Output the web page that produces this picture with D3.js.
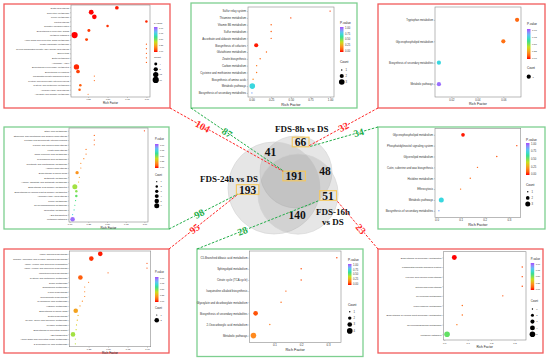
<!DOCTYPE html>
<html>
<head>
<meta charset="utf-8">
<script src="https://cdn.jsdelivr.net/npm/d3@7"></script>
<style>
  body { margin: 0; background: #fff; }
  svg { display: block; }
</style>
</head>
<body>
<div id="main_svg"></div>
<script>
// ---------------- data ----------------
// top-left panel (red)
var aTerms = ["Zeatin biosynthesis", "Nucleotide metabolism", "Purine metabolism", "Photosynthesis",
  "Oxidative phosphorylation", "Biosynthesis of nucleotide sugars", "Metabolic pathways",
  "Amino sugar and nucleotide sugar metabolism", "Inositol phosphate metabolism",
  "Glycosylphosphatidylinositol (GPI)-anchor biosynthesis", "Endocytosis", "Biotin metabolism",
  "Autophagy - other", "Biosynthesis of secondary metabolites", "Biosynthesis of cofactors",
  "Phosphatidylinositol signaling system", "Pentose and glucuronate interconversions",
  "Cysteine and methionine metabolism", "Aminoacyl-tRNA biosynthesis", "Ascorbate and aldarate metabolism"];
var aRich = [0.62, 0.29, 0.33, 1.0, 0.50, 0.26, 0.076, 0.23, 1, 1, 1, 1, 1, 0.10, 0.12, 0.33, 0.33, 0.15, 0.14, 0.25];
var aP = [0.01, 0.0, 0.0, 0.02, 0.03, 0.04, 0.0, 0.05, 0.08, 0.08, 0.08, 0.08, 0.08, 0.02, 0.05, 0.12, 0.12, 0.1, 0.1, 0.15];
var aCount = [6, 10, 9, 3, 3, 4, 16, 4, 1, 1, 1, 1, 1, 12, 6, 1, 1, 3, 3, 1];
var aKeys = [4, 8, 12, 16];
var aTicks = [0.25, 0.5, 0.75, 1.0];

// top-middle panel (green)
var bTerms = ["Sulfur relay system", "Thiamine metabolism", "Vitamin B6 metabolism", "Sulfur metabolism",
  "Ascorbate and aldarate metabolism", "Biosynthesis of cofactors", "Glutathione metabolism",
  "Zeatin biosynthesis", "Carbon metabolism", "Cysteine and methionine metabolism",
  "Biosynthesis of amino acids", "Metabolic pathways", "Biosynthesis of secondary metabolites"];
var bRich = [1.0, 0.5, 0.25, 0.25, 0.25, 0.06, 0.19, 0.11, 0.065, 0.065, 0.02, 0.01, 0.005];
var bP = [0.04, 0.06, 0.1, 0.1, 0.1, 0.01, 0.12, 0.12, 0.15, 0.15, 0.2, 0.72, 0.85];
var bCount = [1, 1, 1, 1, 1, 2, 1, 1, 1, 1, 1, 3, 1];
var bKeys = [1, 2, 3];
var bTicks = [0, 0.25, 0.5, 0.75, 1.0];

// top-right panel (red)
var cTerms = ["Tryptophan metabolism", "Glycerophospholipid metabolism",
  "Biosynthesis of secondary metabolites", "Metabolic pathways"];
var cRich = [0.0706, 0.0600, 0.0104, 0.0104];
var cP = [0.12, 0.14, 0.72, 0.95];
var cCount = [1, 1, 1, 1];
var cKeys = [1];
var cTicks = [0.02, 0.04, 0.06];

// middle-left panel (green)
var dTerms = ["Ether lipid metabolism", "Stilbenoid, diarylheptanoid and gingerol biosynthesis",
  "Pentose and glucuronate interconversions", "Flavone and flavonol biosynthesis", "Folate biosynthesis",
  "alpha-Linolenic acid metabolism", "Cyanoamino acid metabolism", "Nicotinate and nicotinamide metabolism",
  "Arginine biosynthesis", "Biosynthesis of amino acids", "Butanoate metabolism",
  "Alanine, aspartate and glutamate metabolism", "Biosynthesis of secondary metabolites",
  "Biosynthesis of various plant secondary metabolites", "Aminoacyl-tRNA biosynthesis", "Purine metabolism",
  "Glycerophospholipid metabolism", "Nucleotide metabolism", "ABC transporters", "Metabolic pathways"];
var dRich = [1.0, 0.33, 0.33, 0.33, 0.22, 0.22, 0.19, 0.15, 0.15, 0.10, 0.13, 0.12, 0.07, 0.09, 0.09, 0.08, 0.07, 0.06, 0.04, 0.04];
var dP = [0.04, 0.1, 0.1, 0.1, 0.14, 0.14, 0.17, 0.2, 0.2, 0.22, 0.25, 0.27, 0.45, 0.48, 0.52, 0.55, 0.58, 0.65, 0.72, 0.95];
var dCount = [1, 1, 1, 1, 1, 1, 1, 1, 1, 3, 1, 1, 6, 2, 2, 1, 1, 1, 1, 5];
var dKeys = [1, 2, 3, 4, 5, 6];
var dTicks = [0, 0.25, 0.5, 0.75, 1.0];

// bottom-left panel (red)
var eTerms = ["Indole alkaloid biosynthesis", "Tropane, piperidine and pyridine alkaloid biosynthesis",
  "Valine, leucine and isoleucine degradation", "Valine, leucine and isoleucine biosynthesis",
  "Monoterpenoid biosynthesis", "Cysteine and methionine metabolism", "Sulfur metabolism",
  "Sphingolipid metabolism", "Lysine biosynthesis", "Glucosinolate biosynthesis", "Cyanoamino acid metabolism",
  "Histidine metabolism", "Biosynthesis of amino acids", "Zeatin biosynthesis",
  "Glycine, serine and threonine metabolism", "Tyrosine metabolism", "Biosynthesis of nucleotide sugars",
  "ABC transporters", "Amino sugar and nucleotide sugar metabolism", "2-Oxocarboxylic acid metabolism"];
var eRich = [0.40, 0.285, 1.0, 1.0, 0.5, 0.145, 0.25, 0.2, 0.2, 0.2, 0.17, 0.14, 0.085, 0.115, 0.105, 0.095, 0.09, 0.05, 0.08, 0.08];
var eP = [0.01, 0.03, 0.06, 0.06, 0.1, 0.1, 0.15, 0.17, 0.17, 0.17, 0.2, 0.22, 0.25, 0.28, 0.3, 0.34, 0.38, 0.45, 0.42, 0.42];
var eCount = [2, 2, 1, 1, 1, 2, 1, 1, 1, 1, 1, 1, 2, 1, 1, 1, 1, 2, 1, 1];
var eKeys = [1, 2];
var eTicks = [0.25, 0.5, 0.75, 1.0];

// bottom-middle panel (green)
var fTerms = ["C5-Branched dibasic acid metabolism", "Sphingolipid metabolism", "Citrate cycle (TCA cycle)",
  "Isoquinoline alkaloid biosynthesis", "Glyoxylate and dicarboxylate metabolism",
  "Biosynthesis of secondary metabolites", "2-Oxocarboxylic acid metabolism", "Metabolic pathways"];
var fRich = [0.333, 0.2, 0.2, 0.143, 0.125, 0.03, 0.083, 0.022];
var fP = [0.05, 0.07, 0.07, 0.1, 0.12, 0.08, 0.16, 0.2];
var fCount = [1, 1, 1, 1, 1, 3, 1, 4];
var fKeys = [1, 2, 3, 4];
var fTicks = [0.1, 0.2, 0.3];

// middle-right panel (green)
var gTerms = ["Glycerophospholipid metabolism", "Phosphatidylinositol signaling system", "Glycerolipid metabolism",
  "Cutin, suberine and wax biosynthesis", "Histidine metabolism", "Efferocytosis", "Metabolic pathways",
  "Biosynthesis of secondary metabolites"];
var gRich = [0.11, 0.333, 0.25, 0.17, 0.14, 0.10, 0.02, 0.01];
var gP = [0.01, 0.06, 0.08, 0.1, 0.12, 0.14, 0.72, 0.85];
var gCount = [2, 1, 1, 1, 1, 1, 3, 1];
var gKeys = [1, 2, 3];
var gTicks = [0, 0.1, 0.2, 0.3];

// bottom-right panel (red)
var hTerms = ["Biosynthesis of secondary metabolites", "Phosphatidylinositol signaling system",
  "Flavone and flavonol biosynthesis", "Diterpenoid biosynthesis", "Glycerolipid metabolism",
  "Phenylalanine metabolism", "Biosynthesis of various plant secondary metabolites",
  "Glycerophospholipid metabolism", "Metabolic pathways"];
var hRich = [0.043, 0.333, 0.333, 0.333, 0.25, 0.077, 0.077, 0.054, 0.012];
var hP = [0.0, 0.06, 0.06, 0.06, 0.08, 0.12, 0.12, 0.15, 0.52];
var hCount = [4, 1, 1, 1, 1, 1, 1, 1, 5];
var hKeys = [1, 2, 3, 4, 5];
var hTicks = [0, 0.1, 0.2, 0.3];

// venn
var vennSets = ["8h", "24h", "16h"];
var vennSetLabels = [["FDS-8h vs DS"], ["FDS-24h vs DS"], ["FDS-16h", "vs DS"]];
var vennRegions = [["8h"], ["24h"], ["16h"], ["8h", "24h"], ["8h", "16h"], ["24h", "16h"], ["8h", "24h", "16h"]];
var vennValues = [66, 193, 51, 41, 48, 140, 191];
var vennBoxed = [true, true, true, false, false, false, true];

// numbers written on the connector lines
var linkValues = [104, 87, 32, 34, 98, 95, 28, 23];

// ---------------- styles / layout ----------------
var RED = "#f25a5a", GREEN = "#7dcf90";
var LINE_RED = "#ff2626", LINE_GREEN = "#22ad48";
var SANS = "Liberation Sans, Arial, sans-serif";
var SERIF = "Liberation Serif, Times New Roman, serif";

var pColor = d3.scaleLinear()
    .domain([0, 0.2, 0.4, 0.55, 0.75, 1])
    .range(["#ff0000", "#ff8a1e", "#c6e01e", "#2fe070", "#2fd6f2", "#a34cff"])
    .interpolate(d3.interpolateLab);

var svg = d3.select("#main_svg").append("svg")
    .attr("width", 550).attr("height", 358);

var defs = svg.append("defs");

function panel(cfg) {
    var g = svg.append("g");
    var b = cfg.box, p = cfg.plot;

    g.append("rect")
        .attr("x", b[0]).attr("y", b[1])
        .attr("width", b[2] - b[0]).attr("height", b[3] - b[1])
        .attr("fill", "#fff").attr("stroke", cfg.color).attr("stroke-width", 1.3);

    g.append("rect")
        .attr("x", p[0]).attr("y", p[1])
        .attr("width", p[2] - p[0]).attr("height", p[3] - p[1])
        .attr("fill", "#fff");

    // scales (ggplot style expansion)
    var y = d3.scalePoint().domain(cfg.terms).range([p[1], p[3]]).padding(0.6);
    var ext = d3.extent(cfg.rich), pad = (ext[1] - ext[0]) * 0.05;
    var x = d3.scaleLinear().domain([ext[0] - pad, ext[1] + pad]).range([p[0], p[2]]);
    var area = d3.scaleLinear()
        .domain(d3.extent(cfg.count.concat(cfg.keys)))
        .range([cfg.r[0] * cfg.r[0], cfg.r[1] * cfg.r[1]]);
    function rad(c) { return Math.sqrt(area(c)); }

    // y axis
    var ya = g.append("g")
        .attr("transform", "translate(" + p[0] + ",0)")
        .call(d3.axisLeft(y).tickSize(1).tickPadding(0.8));
    ya.select(".domain").remove();
    ya.selectAll("text").attr("font-size", cfg.fs).attr("font-family", SANS).attr("fill", "#333");
    ya.selectAll("line").attr("stroke", "#555").attr("stroke-width", 0.3);

    // x axis
    var xa = g.append("g")
        .attr("transform", "translate(0," + p[3] + ")")
        .call(d3.axisBottom(x).tickValues(cfg.ticks).tickFormat(d3.format(cfg.fmt)).tickSize(1).tickPadding(0.8));
    xa.select(".domain").remove();
    xa.selectAll("text").attr("font-size", cfg.fs).attr("font-family", SANS).attr("fill", "#333");
    xa.selectAll("line").attr("stroke", "#555").attr("stroke-width", 0.3);

    g.append("text")
        .attr("x", (p[0] + p[2]) / 2).attr("y", p[3] + cfg.fs * 1.2 + cfg.fs * 1.6 + 1)
        .attr("text-anchor", "middle").attr("font-family", SANS)
        .attr("font-size", cfg.fs * 1.35).attr("fill", "#222")
        .text("Rich Factor");

    // points
    g.selectAll("circle.pt")
        .data(cfg.terms.map(function (t, i) {
            return {term: t, rich: cfg.rich[i], p: cfg.pv[i], count: cfg.count[i]};
        }))
        .enter().append("circle")
        .attr("class", "pt")
        .attr("cx", function (d) { return x(d.rich); })
        .attr("cy", function (d) { return y(d.term); })
        .attr("r", function (d) { return rad(d.count); })
        .attr("fill", function (d) { return pColor(d.p); });

    // plot frame
    g.append("rect")
        .attr("x", p[0]).attr("y", p[1])
        .attr("width", p[2] - p[0]).attr("height", p[3] - p[1])
        .attr("fill", "none").attr("stroke", "#8a8a8a").attr("stroke-width", 0.6);

    // legend: p-value colourbar
    var L = cfg.leg, lfs = cfg.fs * 0.95;
    g.append("text").attr("x", L.x).attr("y", L.pt)
        .attr("font-family", SANS).attr("font-size", lfs * 1.2).attr("fill", "#222")
        .text("P-value");

    var gid = "grad_" + cfg.id;
    var grad = defs.append("linearGradient").attr("id", gid)
        .attr("x1", 0).attr("y1", 1).attr("x2", 0).attr("y2", 0);
    d3.range(0, 1.0001, 0.1).forEach(function (v) {
        grad.append("stop").attr("offset", v).attr("stop-color", pColor(v));
    });
    g.append("rect").attr("x", L.x).attr("y", L.bar[0])
        .attr("width", L.bw).attr("height", L.bar[1] - L.bar[0])
        .attr("fill", "url(#" + gid + ")");
    var cy = d3.scaleLinear().domain([0, 1]).range([L.bar[1] - 0.8, L.bar[0] + 0.8]);
    g.selectAll("text.pl").data([1, 0.75, 0.5, 0.25, 0]).enter().append("text")
        .attr("class", "pl")
        .attr("x", L.x + L.bw + 1.5).attr("y", function (d) { return cy(d); })
        .attr("dy", "0.35em").attr("font-family", SANS).attr("font-size", lfs).attr("fill", "#333")
        .text(d3.format(".2f"));

    // legend: count sizes
    g.append("text").attr("x", L.x).attr("y", L.ct)
        .attr("font-family", SANS).attr("font-size", lfs * 1.2).attr("fill", "#222")
        .text("Count");
    var kg = g.selectAll("g.key").data(cfg.keys).enter().append("g")
        .attr("transform", function (d, i) {
            return "translate(" + (L.x + L.bw / 2) + "," + (L.c0 + i * L.cs) + ")";
        });
    kg.append("circle").attr("r", function (d) { return rad(d); }).attr("fill", "#000");
    kg.append("text").attr("x", L.bw / 2 + 2).attr("dy", "0.35em")
        .attr("font-family", SANS).attr("font-size", lfs).attr("fill", "#333")
        .text(function (d) { return d; });

    return g;
}

var panels = {
    A: {id: "A", color: RED, box: [4, 4, 170, 108], plot: [71, 5, 150, 97], fs: 2.2,
        terms: aTerms, rich: aRich, pv: aP, count: aCount, keys: aKeys, ticks: aTicks, fmt: ".2f", r: [0.6, 3.1],
        leg: {x: 154, pt: 24, bar: [27, 52], bw: 3.5, ct: 58, c0: 64, cs: 5.3}},
    B: {id: "B", color: GREEN, box: [191, 3, 357, 108], plot: [248, 7, 334, 97], fs: 2.8,
        terms: bTerms, rich: bRich, pv: bP, count: bCount, keys: bKeys, ticks: bTicks, fmt: ".2f", r: [0.7, 2.8],
        leg: {x: 340, pt: 24, bar: [27, 52], bw: 3.5, ct: 63, c0: 70, cs: 6}},
    C: {id: "C", color: RED, box: [378, 4, 545, 108], plot: [435, 7, 521, 97], fs: 2.6,
        terms: cTerms, rich: cRich, pv: cP, count: cCount, keys: cKeys, ticks: cTicks, fmt: ".2f", r: [2.1, 2.1],
        leg: {x: 527, pt: 25, bar: [29, 59], bw: 3.5, ct: 69, c0: 76.7, cs: 6}},
    D: {id: "D", color: GREEN, box: [4, 127, 169, 229], plot: [69, 128, 148, 222], fs: 2.3,
        terms: dTerms, rich: dRich, pv: dP, count: dCount, keys: dKeys, ticks: dTicks, fmt: ".2f", r: [0.6, 2.5],
        leg: {x: 155, pt: 140, bar: [144, 168], bw: 3.5, ct: 176, c0: 181.7, cs: 4.8}},
    E: {id: "E", color: RED, box: [4, 249, 169, 353], plot: [69.3, 251, 150.7, 346.7], fs: 2.3,
        terms: eTerms, rich: eRich, pv: eP, count: eCount, keys: eKeys, ticks: eTicks, fmt: ".2f", r: [0.6, 2.3],
        leg: {x: 155, pt: 272.7, bar: [277, 302], bw: 3.5, ct: 309.3, c0: 315, cs: 5.3}},
    F: {id: "F", color: GREEN, box: [197, 249, 363, 356.5], plot: [249.3, 251, 341, 342.3], fs: 2.8,
        terms: fTerms, rich: fRich, pv: fP, count: fCount, keys: fKeys, ticks: fTicks, fmt: ".1f", r: [0.7, 2.8],
        leg: {x: 348, pt: 261, bar: [264, 285], bw: 3.5, ct: 306, c0: 311.7, cs: 6.4}},
    G: {id: "G", color: GREEN, box: [378, 127, 545, 229], plot: [435, 128.3, 520.7, 217.3], fs: 2.8,
        terms: gTerms, rich: gRich, pv: gP, count: gCount, keys: gKeys, ticks: gTicks, fmt: ".1f", r: [0.7, 2.5],
        leg: {x: 526, pt: 140.7, bar: [143, 175], bw: 3.5, ct: 186, c0: 191.7, cs: 6.2}},
    H: {id: "H", color: RED, box: [378, 249, 543, 353], plot: [443.3, 251.7, 526, 340], fs: 2.4,
        terms: hTerms, rich: hRich, pv: hP, count: hCount, keys: hKeys, ticks: hTicks, fmt: ".1f", r: [0.7, 2.8],
        leg: {x: 530.7, pt: 260, bar: [263, 290], bw: 3.5, ct: 301.7, c0: 309, cs: 6.3}}
};

Object.keys(panels).forEach(function (k) { panel(panels[k]); });

// ---------------- venn ----------------
var setTotals = vennSets.map(function (s) {
    return d3.sum(vennRegions, function (r, i) { return r.indexOf(s) >= 0 ? vennValues[i] : 0; });
});
var rScale = d3.scaleSqrt().domain([0, d3.max(setTotals)]).range([0, 46]);

// hand placed centres and label anchors
var vennCentres = [[296, 172], [274, 188], [298, 194]];
var vennSetLabelPos = [[301.7, 128.5], [229, 179], [333, 211.5]];
var vennRegionPos = [[300.5, 142], [247.5, 189.5], [328, 195.5], [270.5, 152.3], [325, 171], [297, 215], [294, 176]];

var vg = svg.append("g");
vg.selectAll("circle").data(vennSets).enter().append("circle")
    .attr("cx", function (d, i) { return vennCentres[i][0]; })
    .attr("cy", function (d, i) { return vennCentres[i][1]; })
    .attr("r", function (d, i) { return rScale(setTotals[i]); })
    .attr("fill", "#8c8c8c").attr("fill-opacity", 0.22)
    .attr("stroke", "#d2d2d2").attr("stroke-width", 0.6);

vennSetLabels.forEach(function (lines, i) {
    lines.forEach(function (t, j) {
        vg.append("text")
            .attr("x", vennSetLabelPos[i][0]).attr("y", vennSetLabelPos[i][1] + j * 10.6)
            .attr("text-anchor", "middle").attr("dy", "0.35em")
            .attr("font-family", SERIF).attr("font-weight", "bold").attr("font-size", 9)
            .attr("fill", "#111").text(t);
    });
});

var boxes = [];
vennValues.forEach(function (v, i) {
    var t = vg.append("text")
        .attr("x", vennRegionPos[i][0]).attr("y", vennRegionPos[i][1])
        .attr("text-anchor", "middle").attr("dy", "0.35em")
        .attr("font-family", SERIF).attr("font-weight", "bold").attr("font-size", 11.5)
        .attr("fill", "#111").text(v);
    if (vennBoxed[i]) {
        var bb = t.node().getBBox();
        var bx = {x0: bb.x - 2.5, y0: vennRegionPos[i][1] - 4.8, x1: bb.x + bb.width + 2.5, y1: vennRegionPos[i][1] + 4.8};
        vg.insert("rect", "text")
            .attr("x", bx.x0).attr("y", bx.y0)
            .attr("width", bx.x1 - bx.x0).attr("height", bx.y1 - bx.y0)
            .attr("fill", "none").attr("stroke", "#f5c75a").attr("stroke-width", 1.1);
        boxes[i] = bx;
    }
});

// ---------------- connectors ----------------
var P = panels;
var links = [
    {from: [P.A.box[2], P.A.box[3]], to: [boxes[6].x0, boxes[6].y0], color: LINE_RED, t: 0.29},
    {from: [P.B.box[0], P.B.box[3]], to: [boxes[6].x0 + 1, boxes[6].y0], color: LINE_GREEN, t: 0.39},
    {from: [P.C.box[0], P.C.box[3]], to: [boxes[0].x1, boxes[0].y1 - 1], color: LINE_RED, t: 0.5},
    {from: [P.G.box[0], P.G.box[1]], to: [boxes[0].x1, boxes[0].y1], color: LINE_GREEN, t: 0.28},
    {from: [P.D.box[2], P.D.box[3]], to: [boxes[1].x0 + 1, boxes[1].y1], color: LINE_GREEN, t: 0.44},
    {from: [P.E.box[2], P.E.box[1]], to: [boxes[1].x0 + 1.5, boxes[1].y1], color: LINE_RED, t: 0.37},
    {from: [P.F.box[0], P.F.box[1]], to: [boxes[2].x0, boxes[2].y1], color: LINE_GREEN, t: 0.37},
    {from: [P.H.box[0], P.H.box[1]], to: [boxes[2].x1, boxes[2].y1], color: LINE_RED, t: 0.41}
];

var lg = svg.append("g");
links.forEach(function (l, i) {
    lg.append("line")
        .attr("x1", l.from[0]).attr("y1", l.from[1])
        .attr("x2", l.to[0]).attr("y2", l.to[1])
        .attr("stroke", l.color).attr("stroke-width", 1)
        .attr("stroke-dasharray", "2.5,1.5");
    var mx = l.from[0] + (l.to[0] - l.from[0]) * l.t,
        my = l.from[1] + (l.to[1] - l.from[1]) * l.t;
    var ang = Math.atan2(l.to[1] - l.from[1], l.to[0] - l.from[0]) * 180 / Math.PI;
    if (ang > 90) ang -= 180;
    if (ang < -90) ang += 180;
    lg.append("text")
        .attr("transform", "translate(" + mx + "," + my + ") rotate(" + ang + ")")
        .attr("text-anchor", "middle").attr("dy", "0.35em")
        .attr("font-family", SERIF).attr("font-weight", "bold").attr("font-size", 10)
        .attr("fill", l.color)
        .attr("stroke", "#fff").attr("stroke-width", 1).attr("paint-order", "stroke")
        .text(linkValues[i]);
});
</script>
</body>
</html>
